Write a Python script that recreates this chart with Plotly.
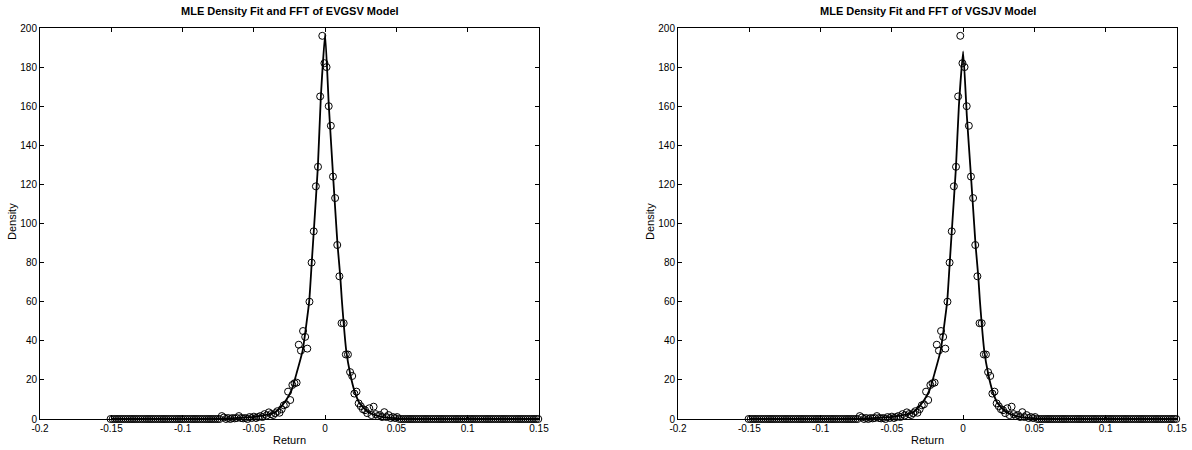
import plotly.graph_objects as go

# ---------------- data ----------------
# empirical density: bin centres start at -0.1505 with width 0.0015 (201 bins)
bin_start = -0.1505
bin_width = 0.0015
n_bins = 201
bin_centers = [round(bin_start + bin_width * i, 5) for i in range(n_bins)]

central_density = [
    1.5, 0.8, 0.0, 0.5, 0.0, 0.5, 0.3, 0.5, 1.5, 0.5,
    0.3, 0.5, 0.0, 1.0, 0.5, 1.2, 0.5, 1.0, 1.5, 1.0,
    2.5, 1.8, 3.4, 2.5, 2.0, 3.0, 4.0, 3.2, 5.0, 7.0,
    7.5, 14.0, 9.7, 17.4, 18.3, 18.6, 38.0, 35.0, 45.0, 42.0,
    36.0, 60.0, 80.0, 96.0, 119.0, 129.0, 165.0, 196.0, 182.0, 180.0,
    160.0, 150.0, 124.0, 113.0, 89.0, 73.0, 49.0, 49.0, 33.0, 33.0,
    24.0, 22.0, 13.0, 14.0, 8.0, 6.5, 5.0, 4.5, 3.0, 5.5,
    2.0, 6.3, 2.5, 1.5, 2.0, 1.0, 3.5, 1.0, 2.0, 0.5,
    1.0, 0.5, 1.0,
]
empirical_density = [0.0] * 52 + central_density + [0.0] * 66

# fitted densities (FFT of model characteristic function)
evgsv_x = [-0.15, -0.09, -0.07, -0.06, -0.05, -0.045, -0.04, -0.035, -0.032, -0.028,
           -0.0234, -0.0198, -0.0158, -0.0112, -0.0094, -0.0077, -0.0051, -0.003, 0.0,
           0.0026, 0.0056, 0.0078, 0.0087, 0.0106, 0.0117, 0.0148, 0.0176, 0.0207,
           0.0242, 0.029, 0.034, 0.039, 0.049, 0.059, 0.08, 0.15]
evgsv_y = [0, 0.05, 0.3, 0.6, 1.1, 1.6, 2.3, 3.5, 5.5, 8.9,
           15, 24, 35, 60, 80, 99, 129, 165, 197,
           160, 124, 99, 89, 73, 61, 35, 23, 14,
           8, 4.2, 2.2, 1.2, 0.4, 0.15, 0.03, 0]

vgsjv_x = [-0.15, -0.09, -0.07, -0.06, -0.05, -0.045, -0.04, -0.035, -0.032, -0.028,
           -0.0234, -0.0198, -0.0158, -0.0112, -0.0094, -0.0077, -0.0051, -0.003, 0.0,
           0.0026, 0.0056, 0.0078, 0.0087, 0.0106, 0.0117, 0.0148, 0.0176, 0.0207,
           0.0242, 0.029, 0.034, 0.039, 0.049, 0.059, 0.08, 0.15]
vgsjv_y = [0, 0.05, 0.3, 0.6, 1.1, 1.6, 2.3, 3.5, 5.5, 8.9,
           15, 24, 35, 60, 80, 99, 128, 160, 188,
           155, 123, 99, 89, 73, 61, 35, 23, 14,
           8, 4.2, 2.2, 1.2, 0.4, 0.15, 0.03, 0]

titles = ["MLE Density Fit and FFT of EVGSV Model", "MLE Density Fit and FFT of VGSJV Model"]
x_tickvals = [-0.2, -0.15, -0.1, -0.05, 0, 0.05, 0.1, 0.15]
x_ticktext = ["-0.2", "-0.15", "-0.1", "-0.05", "0", "0.05", "0.1", "0.15"]
y_tickvals = [0, 20, 40, 60, 80, 100, 120, 140, 160, 180, 200]

# ---------------- figure ----------------
W, H = 1192, 450
FONT = "Liberation Sans, Arial, sans-serif"
panels = [
    dict(x0=40, x1=539, lx=evgsv_x, ly=evgsv_y, ax="x", ay="y"),
    dict(x0=678, x1=1177, lx=vgsjv_x, ly=vgsjv_y, ax="x2", ay="y2"),
]
y_top, y_bot = 28, 419

fig = go.Figure()
for p in panels:
    fig.add_trace(go.Scatter(
        x=bin_centers, y=empirical_density, mode="markers",
        marker=dict(symbol="circle-open", size=7, color="black", line=dict(width=1, color="black")),
        xaxis=p["ax"], yaxis=p["ay"], showlegend=False, cliponaxis=False))
    fig.add_trace(go.Scatter(
        x=p["lx"], y=p["ly"], mode="lines",
        line=dict(color="black", width=1.8, shape="spline", smoothing=0.4),
        xaxis=p["ax"], yaxis=p["ay"], showlegend=False))

axis_common = dict(showline=True, linecolor="black", linewidth=1, mirror="ticks",
                   ticks="inside", ticklen=4, tickcolor="black", tickwidth=1,
                   showgrid=False, zeroline=False, automargin=False,
                   tickfont=dict(family=FONT, size=10, color="black"))

layout = dict(width=W, height=H, margin=dict(l=0, r=0, t=0, b=0, autoexpand=False),
              paper_bgcolor="white", plot_bgcolor="white", showlegend=False)
annotations = []
for i, p in enumerate(panels):
    sfx = "" if i == 0 else str(i + 1)
    dom_x = [p["x0"] / W, p["x1"] / W]
    dom_y = [1 - y_bot / H, 1 - y_top / H]
    layout["xaxis" + sfx] = dict(axis_common, domain=dom_x, range=[-0.2, 0.15],
                                 tickvals=x_tickvals, ticktext=x_ticktext,
                                 anchor="y" + sfx)
    layout["yaxis" + sfx] = dict(axis_common, domain=dom_y, range=[0, 200],
                                 tickvals=y_tickvals, anchor="x" + sfx)
    cx = (p["x0"] + p["x1"]) / 2 / W
    annotations.append(dict(text="<b>" + titles[i] + "</b>", x=cx, y=1 - 11 / H,
                            xref="paper", yref="paper", showarrow=False,
                            xanchor="center", yanchor="middle",
                            font=dict(family=FONT, size=11, color="black")))
    annotations.append(dict(text="Return", x=cx, y=1 - 440 / H,
                            xref="paper", yref="paper", showarrow=False,
                            xanchor="center", yanchor="middle",
                            font=dict(family=FONT, size=11, color="black")))
    annotations.append(dict(text="Density", x=(p["x0"] - 28) / W, y=1 - 222 / H,
                            xref="paper", yref="paper", showarrow=False, textangle=-90,
                            xanchor="center", yanchor="middle",
                            font=dict(family=FONT, size=11, color="black")))
layout["annotations"] = annotations
fig.update_layout(**layout)

fig.write_html("out.html",
               config={"displayModeBar": False, "staticPlot": True},
               post_script="document.body.style.margin='0';document.body.style.padding='0';"
                           "document.body.style.overflow='hidden';")
